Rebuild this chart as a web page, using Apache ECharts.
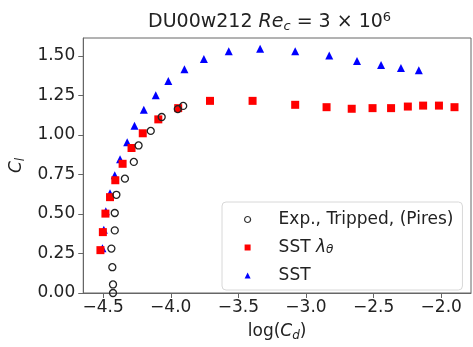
<!DOCTYPE html>
<html>
<head>
<meta charset="utf-8">
<script src="https://cdn.jsdelivr.net/npm/echarts@6/dist/echarts.min.js"></script>
<style>html,body{margin:0;padding:0;background:#fff}#c{width:473px;height:347px}</style>
</head>
<body>
<div id="c"></div>
<script>
var xTicks = [-4.5, -4.0, -3.5, -3.0, -2.5, -2.0];
var yTicks = [0, 0.25, 0.5, 0.75, 1.0, 1.25, 1.5];

var expX = [-4.427, -4.427, -4.432, -4.439, -4.414, -4.414, -4.402, -4.339, -4.273, -4.238, -4.148, -4.067, -3.948, -3.908];
var expY = [0.0, 0.054, 0.163, 0.281, 0.396, 0.506, 0.621, 0.723, 0.829, 0.933, 1.025, 1.113, 1.163, 1.183];

var sstLX = [-4.520, -4.502, -4.483, -4.449, -4.410, -4.356, -4.290, -4.207, -4.092, -3.945, -3.710, -3.395, -3.080, -2.848, -2.662, -2.508, -2.371, -2.247, -2.134, -2.017, -1.902];
var sstLY = [0.271, 0.385, 0.502, 0.606, 0.713, 0.817, 0.917, 1.010, 1.098, 1.169, 1.215, 1.215, 1.190, 1.175, 1.165, 1.169, 1.169, 1.179, 1.185, 1.185, 1.175];

var sstX = [-4.505, -4.495, -4.480, -4.449, -4.414, -4.375, -4.322, -4.268, -4.199, -4.111, -4.018, -3.899, -3.755, -3.571, -3.339, -3.080, -2.828, -2.623, -2.445, -2.298, -2.166];
var sstY = [0.283, 0.400, 0.517, 0.631, 0.744, 0.846, 0.954, 1.058, 1.158, 1.250, 1.340, 1.415, 1.479, 1.529, 1.544, 1.529, 1.502, 1.467, 1.442, 1.423, 1.408];

function zip(a, b) { return a.map(function (v, i) { return [v, b[i]]; }); }

var FONT = 'DejaVu Sans';
var chart = echarts.init(document.getElementById('c'), null, { renderer: 'canvas' });
chart.setOption({
  animation: false,
  backgroundColor: '#fff',
  textStyle: { fontFamily: FONT },
  title: {
    left: 148,
    top: 11,
    padding: 0,
    text: '{a|DU00w212 }{i|Re}{sub|c}{a| = 3 × 10}{sup|6}',
    textStyle: {
      fontWeight: 'normal',
      rich: {
        a: { fontFamily: FONT, fontWeight: 'normal', fontSize: 19, color: '#222', lineHeight: 22 },
        i: { fontFamily: FONT, fontWeight: 'normal', fontStyle: 'italic', fontSize: 19, color: '#222', lineHeight: 22 },
        sub: { fontFamily: FONT, fontWeight: 'normal', fontStyle: 'italic', fontSize: 13, color: '#222', verticalAlign: 'bottom', lineHeight: 12 },
        sup: { fontFamily: FONT, fontWeight: 'normal', fontSize: 13, color: '#222', verticalAlign: 'top', lineHeight: 12 }
      }
    }
  },
  grid: {
    left: 80, right: 2, top: 38, bottom: 51,
    show: true, borderColor: '#666', borderWidth: 1, containLabel: false
  },
  xAxis: {
    type: 'value', min: -4.647, max: -1.78,
    name: '{a|log(}{i|C}{sub|d}{a|)}',
    nameLocation: 'middle', nameGap: 29,
    nameTextStyle: {
      rich: {
        a: { fontFamily: FONT, fontSize: 17, color: '#222', lineHeight: 20 },
        i: { fontFamily: FONT, fontStyle: 'italic', fontSize: 17, color: '#222', lineHeight: 20 },
        sub: { fontFamily: FONT, fontStyle: 'italic', fontSize: 12, color: '#222', verticalAlign: 'bottom', lineHeight: 11 }
      }
    },
    axisLine: { show: true, lineStyle: { color: '#666', width: 1 } },
    axisTick: { show: true, length: 5, lineStyle: { color: '#666' }, customValues: xTicks },
    axisLabel: {
      customValues: xTicks, fontSize: 17, color: '#222', margin: 6,
      formatter: function (v) { return (v < 0 ? '\u2212' : '') + Math.abs(v).toFixed(1); }
    },
    splitLine: { show: false }
  },
  yAxis: {
    type: 'value', min: 0, max: 1.6125,
    name: '{i|C}{sub|l}',
    nameLocation: 'middle', nameGap: 54,
    nameTextStyle: {
      rich: {
        i: { fontFamily: FONT, fontStyle: 'italic', fontSize: 17, color: '#222', lineHeight: 20 },
        sub: { fontFamily: FONT, fontStyle: 'italic', fontSize: 12, color: '#222', verticalAlign: 'bottom', lineHeight: 11 }
      }
    },
    axisLine: { show: true, lineStyle: { color: '#666', width: 1 } },
    axisTick: { show: true, length: 5, lineStyle: { color: '#666' }, customValues: yTicks },
    axisLabel: {
      customValues: yTicks, fontSize: 17, color: '#222', margin: 8,
      formatter: function (v) { return v.toFixed(2); }
    },
    splitLine: { show: false }
  },
  legend: {
    orient: 'vertical',
    left: 222, top: 202,
    padding: [9, 9, 6, 22],
    itemGap: 11,
    itemWidth: 6, itemHeight: 6,
    backgroundColor: 'rgba(255,255,255,0.85)',
    borderColor: '#d8d8d8', borderWidth: 1, borderRadius: 4,
    textStyle: {
      fontFamily: FONT, fontSize: 17, color: '#222', padding: [0, 0, 0, 23],
      rich: {
        a: { fontFamily: FONT, fontSize: 17, color: '#222' },
        i: { fontFamily: FONT, fontStyle: 'italic', fontSize: 17, color: '#222' },
        sub: { fontFamily: FONT, fontStyle: 'italic', fontSize: 12, color: '#222', verticalAlign: 'bottom', lineHeight: 11 }
      }
    },
    formatter: function (name) {
      if (name === 'SST λθ') return '{a|SST }{i|λ}{sub|θ}';
      return name;
    },
    data: [
      { name: 'Exp., Tripped, (Pires)', itemStyle: { color: 'rgba(0,0,0,0)', borderColor: '#333', borderWidth: 1.2 }, icon: 'circle' },
      { name: 'SST λθ', icon: 'rect' },
      { name: 'SST', icon: 'triangle' }
    ]
  },
  series: [
    {
      name: 'Exp., Tripped, (Pires)', type: 'scatter', symbol: 'circle', symbolSize: 7,
      itemStyle: { color: 'rgba(0,0,0,0)', borderColor: '#222', borderWidth: 1.3, opacity: 1 },
      data: zip(expX, expY), z: 3
    },
    {
      name: 'SST λθ', type: 'scatter', symbol: 'rect', symbolSize: 8,
      itemStyle: { color: '#ff0000', opacity: 1 },
      data: zip(sstLX, sstLY), z: 2
    },
    {
      name: 'SST', type: 'scatter', symbol: 'triangle', symbolSize: 8,
      itemStyle: { color: '#0000ff', opacity: 1 },
      data: zip(sstX, sstY), z: 1
    }
  ]
});
</script>
</body>
</html>
